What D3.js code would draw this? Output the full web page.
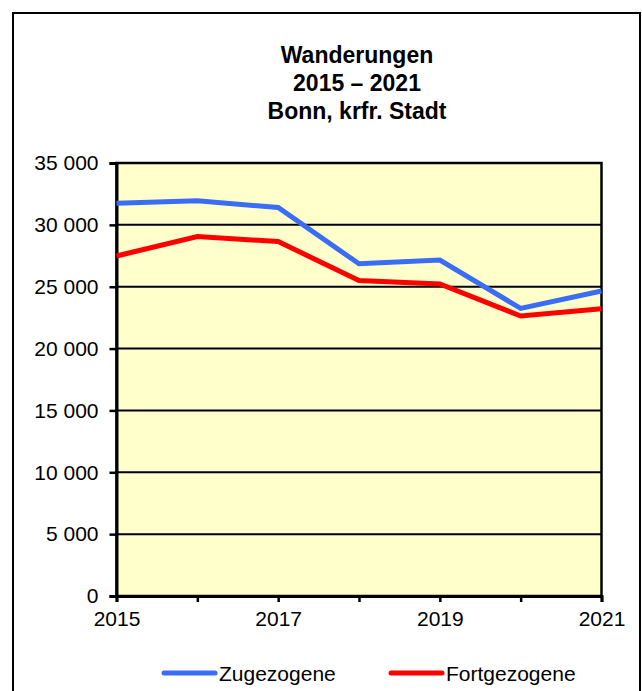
<!DOCTYPE html>
<html>
<head>
<meta charset="utf-8">
<script src="https://cdn.jsdelivr.net/npm/d3@7"></script>
<style>
  html, body { margin: 0; padding: 0; background: #ffffff; }
  svg { display: block; font-family: "Liberation Sans", Arial, sans-serif; }
</style>
</head>
<body>
<svg id="chart" width="642" height="691"></svg>
<script>
// Wanderungen Bonn 2015–2021
const titleLines = ["Wanderungen", "2015 \u2013 2021", "Bonn, krfr. Stadt"];
const years = [2015, 2016, 2017, 2018, 2019, 2020, 2021];
const zugezogene = [31750, 31950, 31400, 26850, 27150, 23250, 24650];
const fortgezogene = [27480, 29050, 28650, 25500, 25220, 22630, 23220];
const yTicks = [0, 5000, 10000, 15000, 20000, 25000, 30000, 35000];
const xTickLabels = [2015, 2017, 2019, 2021];
const seriesNames = ["Zugezogene", "Fortgezogene"];
const seriesColors = ["#3a6cf6", "#ff0000"];

const svg = d3.select("#chart");
const margin = { left: 116.5, right: 601.5, top: 163, bottom: 596 };
const labelFont = "Liberation Sans, Arial, sans-serif";

// outer frame
svg.append("rect")
  .attr("x", 13).attr("y", 13)
  .attr("width", 627).attr("height", 700)
  .attr("fill", "none").attr("stroke", "#000").attr("stroke-width", 2);

// title
const title = svg.append("text")
  .attr("text-anchor", "middle")
  .attr("font-weight", "bold")
  .attr("font-size", 23)
  .attr("fill", "#000");
titleLines.forEach((t, i) => {
  title.append("tspan").attr("x", 357).attr("y", 63 + i * 28).text(t);
});

const x = d3.scaleLinear().domain([2015, 2021]).range([margin.left, margin.right]);
const y = d3.scaleLinear().domain([0, 35000]).range([margin.bottom, margin.top]);

// plot background
svg.append("rect")
  .attr("x", margin.left).attr("y", margin.top)
  .attr("width", margin.right - margin.left)
  .attr("height", margin.bottom - margin.top)
  .attr("fill", "#ffffcc");

// horizontal gridlines
svg.append("g")
  .selectAll("line")
  .data(yTicks.filter(v => v > 0 && v < 35000))
  .join("line")
  .attr("x1", margin.left).attr("x2", margin.right)
  .attr("y1", d => y(d)).attr("y2", d => y(d))
  .attr("stroke", "#000").attr("stroke-width", 2);

// plot border
svg.append("rect")
  .attr("x", margin.left).attr("y", margin.top)
  .attr("width", margin.right - margin.left)
  .attr("height", margin.bottom - margin.top)
  .attr("fill", "none").attr("stroke", "#000").attr("stroke-width", 2.5);

const fmt = v => d3.format(",")(v).replace(/,/g, " ");

// y axis
const yAxis = svg.append("g")
  .attr("transform", `translate(${margin.left},0)`)
  .call(d3.axisLeft(y).tickValues(yTicks).tickFormat(fmt).tickSize(7).tickPadding(11));
yAxis.select(".domain").attr("stroke", "#000").attr("stroke-width", 3);
yAxis.selectAll(".tick line").attr("stroke", "#000").attr("stroke-width", 2.5);
yAxis.selectAll(".tick text")
  .attr("font-size", 21).attr("font-family", labelFont).attr("fill", "#000");

// x axis
const xAxis = svg.append("g")
  .attr("transform", `translate(0,${margin.bottom})`)
  .call(d3.axisBottom(x).tickValues(years)
    .tickFormat(d => xTickLabels.includes(d) ? String(d) : "")
    .tickSize(6).tickPadding(9));
xAxis.select(".domain").attr("stroke", "#000").attr("stroke-width", 3);
xAxis.selectAll(".tick line").attr("stroke", "#000").attr("stroke-width", 2.5);
xAxis.selectAll(".tick text")
  .attr("font-size", 21).attr("font-family", labelFont).attr("fill", "#000");

// series lines
const line = d3.line().x((d, i) => x(years[i])).y(d => y(d));
[zugezogene, fortgezogene].forEach((vals, k) => {
  svg.append("path")
    .datum(vals)
    .attr("d", line)
    .attr("fill", "none")
    .attr("stroke", seriesColors[k])
    .attr("stroke-width", 5)
    .attr("stroke-linejoin", "miter");
});

// legend
const legendX = [164, 391];
const legendY = 673;
seriesNames.forEach((name, k) => {
  const g = svg.append("g");
  g.append("line")
    .attr("x1", legendX[k]).attr("x2", legendX[k] + 51)
    .attr("y1", legendY).attr("y2", legendY)
    .attr("stroke", seriesColors[k]).attr("stroke-width", 5)
    .attr("stroke-linecap", "round");
  g.append("text")
    .attr("x", legendX[k] + 55).attr("y", legendY + 7.5)
    .attr("font-size", 21).attr("fill", "#000")
    .text(name);
});
</script>
</body>
</html>
